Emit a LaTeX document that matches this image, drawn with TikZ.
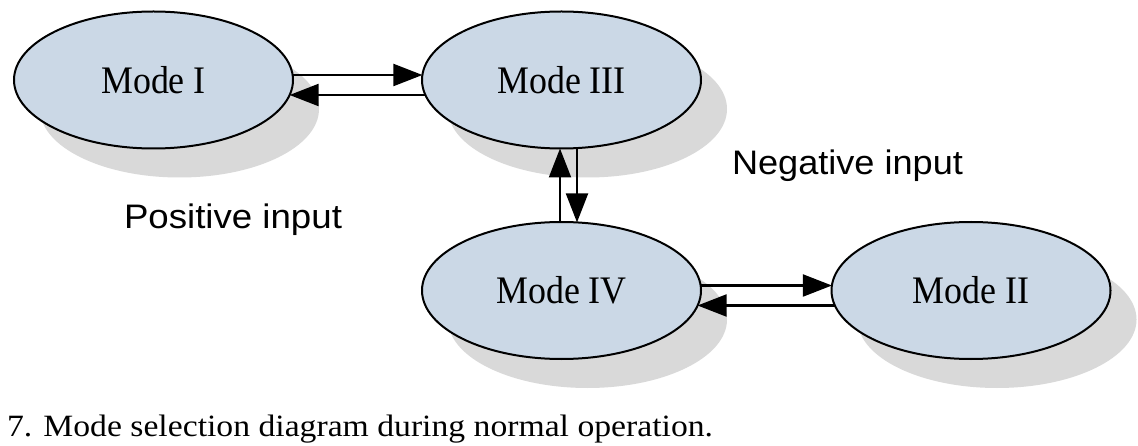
\documentclass[tikz,border=0pt]{standalone}
\usepackage{fontspec}
\usepackage{graphicx}
\setmainfont{Liberation Serif}
\newfontfamily\labelfont{Liberation Sans}
\usetikzlibrary{arrows.meta,shapes.geometric,shadows,calc}
\definecolor{modefill}{RGB}{203,216,230}
\definecolor{shadowgray}{RGB}{217,217,217}
\newcommand{\modetxt}[1]{\scalebox{0.92}[1]{#1}}
\begin{document}
\begin{tikzpicture}[x=1pt,y=-1pt,
  mode/.style={ellipse, draw=black, line width=2pt, fill=modefill,
    minimum width=279pt, minimum height=137pt, inner sep=0pt, outer sep=0pt,
    font=\fontsize{39}{42}\selectfont,
    drop shadow={shadow xshift=26pt, shadow yshift=-29pt, fill=shadowgray, opacity=1, draw=none}},
  arr/.style={line width=2.1pt, -{Triangle[length=29pt,width=22pt]}},
  lbl/.style={inner sep=0pt, outer sep=0pt, anchor=base west}]
\fill[white] (0,0) rectangle (1138,446);
\useasboundingbox (0,0) rectangle (1138,446);

\node[mode] (m1) at (153.5,80) {\modetxt{Mode I}};
\node[mode] (m3) at (561.5,80) {\modetxt{Mode III}};
\node[mode] (m4) at (561.5,290.5) {\modetxt{Mode IV}};
\node[mode] (m2) at (971,290.5) {\modetxt{Mode II}};

\draw[arr] ($(m1.center)+(139.1,-5)$) -- ($(m3.center)+(-139.1,-5)$);
\draw[arr] ($(m3.center)+(-136.1,15)$) -- ($(m1.center)+(136.1,15)$);
\draw[arr] ($(m4.center)+(-1.5,-68.5)$) -- ($(m3.center)+(-1.5,68.5)$);
\draw[arr] ($(m3.center)+(15.5,68.1)$) -- ($(m4.center)+(15.5,-68.1)$);
\draw[arr] ($(m4.center)+(139.1,-5)$) -- ($(m2.center)+(-139.1,-5)$);
\draw[arr] ($(m2.center)+(-136.1,15)$) -- ($(m4.center)+(136.1,15)$);

\node[lbl] (pos) at (124,229) {\resizebox{218pt}{\height}{\labelfont\fontsize{34}{38}\selectfont Positive input}};
\node[lbl] (neg) at (732,175) {\resizebox{231pt}{\height}{\labelfont\fontsize{34}{38}\selectfont Negative input}};
\node[lbl] (cap) at (7,436) {\resizebox{706pt}{\height}{\fontsize{31}{36}\selectfont 7. Mode selection diagram during normal operation.}};
\end{tikzpicture}
\end{document}
